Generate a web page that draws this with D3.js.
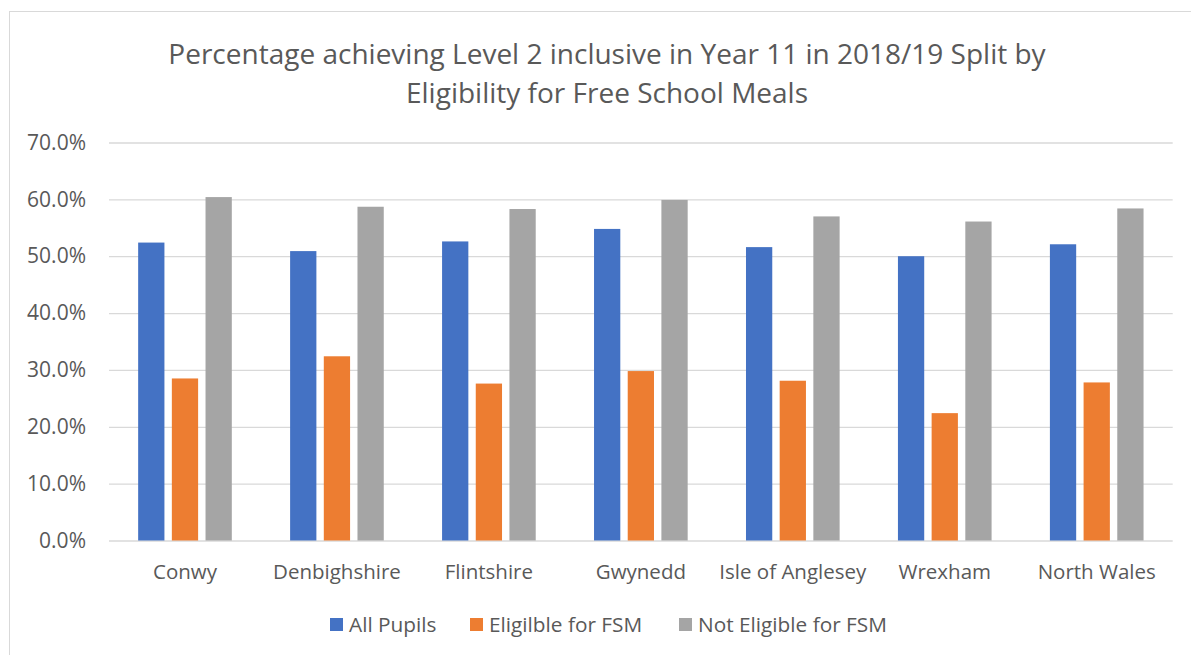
<!DOCTYPE html>
<html>
<head>
<meta charset="utf-8">
<script src="https://cdn.jsdelivr.net/npm/d3@7"></script>
<style>
  html, body { margin: 0; padding: 0; background: #ffffff; }
  svg { display: block; font-family: "Open Sans", "Noto Sans", sans-serif; }
</style>
</head>
<body>
<svg id="chart" width="1191" height="655"></svg>
<script>
const titleLines = ["Percentage achieving Level 2 inclusive in Year 11 in 2018/19 Split by", "Eligibility for Free School Meals"];
const categories = ["Conwy", "Denbighshire", "Flintshire", "Gwynedd", "Isle of Anglesey", "Wrexham", "North Wales"];
const seriesNames = ["All Pupils", "Eligilble for FSM", "Not Eligible for FSM"];
const allPupils = [52.4, 50.9, 52.6, 54.8, 51.6, 50.0, 52.1];
const eligibleFSM = [28.5, 32.4, 27.6, 29.8, 28.1, 22.4, 27.8];
const notEligibleFSM = [60.4, 58.7, 58.3, 59.9, 57.0, 56.1, 58.4];
const yTicks = [0, 10, 20, 30, 40, 50, 60, 70];
const colors = ["#4472C4", "#ED7D31", "#A5A5A5"];

const seriesValues = [allPupils, eligibleFSM, notEligibleFSM];
const svg = d3.select("#chart");

// chart border
svg.append("rect")
  .attr("x", 9.5).attr("y", 11.5)
  .attr("width", 1300).attr("height", 800)
  .attr("fill", "none").attr("stroke", "#d9d9d9").attr("stroke-width", 1);

const plot = { left: 109, right: 1172.7, top: 142.5, bottom: 540.5 };

const y = d3.scaleLinear().domain([0, 70]).range([plot.bottom, plot.top]);
const x0 = d3.scaleBand().domain(categories).range([plot.left, plot.right])
  .paddingInner(0.335).paddingOuter(0.1675);
const x1 = d3.scaleBand().domain(seriesNames).range([0, x0.bandwidth()])
  .paddingInner(0.22).paddingOuter(0.11);

// title
svg.append("g").selectAll("text").data(titleLines).join("text")
  .attr("x", 607).attr("y", (d, i) => 64 + i * 39)
  .attr("text-anchor", "middle")
  .attr("fill", "#595959")
  .style("font-size", "28px")
  .text(d => d);

// gridlines + y labels via axis
const yAxis = d3.axisLeft(y).tickValues(yTicks)
  .tickSize(-(plot.right - plot.left))
  .tickPadding(23)
  .tickFormat(d => d.toFixed(1) + "%");
const gy = svg.append("g").attr("transform", `translate(${plot.left},0)`).call(yAxis);
gy.select(".domain").remove();
gy.selectAll(".tick line").attr("stroke", "#d9d9d9").attr("stroke-width", 1.3);
gy.selectAll(".tick text").attr("fill", "#595959")
  .style("font-size", "21px").style("font-family", "'Open Sans', sans-serif");

// bars
const groups = svg.append("g").selectAll("g").data(categories).join("g")
  .attr("transform", d => `translate(${x0(d)},0)`);
groups.selectAll("rect")
  .data((c, ci) => seriesNames.map((s, si) => ({ s, si, v: seriesValues[si][ci] })))
  .join("rect")
  .attr("x", d => x1(d.s))
  .attr("width", x1.bandwidth())
  .attr("y", d => y(d.v))
  .attr("height", d => y(0) - y(d.v))
  .attr("fill", d => colors[d.si]);

// x axis labels
const xAxis = d3.axisBottom(x0).tickSize(0).tickPadding(24);
const gx = svg.append("g").attr("transform", `translate(0,${plot.bottom})`).call(xAxis);
gx.select(".domain").remove();
gx.selectAll(".tick text").attr("fill", "#595959")
  .style("font-size", "20.5px").style("font-family", "'Open Sans', sans-serif");

// legend
const legendX = [330, 470, 679];
const lg = svg.append("g").selectAll("g").data(seriesNames).join("g")
  .attr("transform", (d, i) => `translate(${legendX[i]},0)`);
lg.append("rect").attr("x", 0).attr("y", 618).attr("width", 13).attr("height", 13)
  .attr("fill", (d, i) => colors[i]);
lg.append("text").attr("x", 19).attr("y", 632)
  .attr("fill", "#595959").style("font-size", "20.8px")
  .text(d => d);
</script>
</body>
</html>
